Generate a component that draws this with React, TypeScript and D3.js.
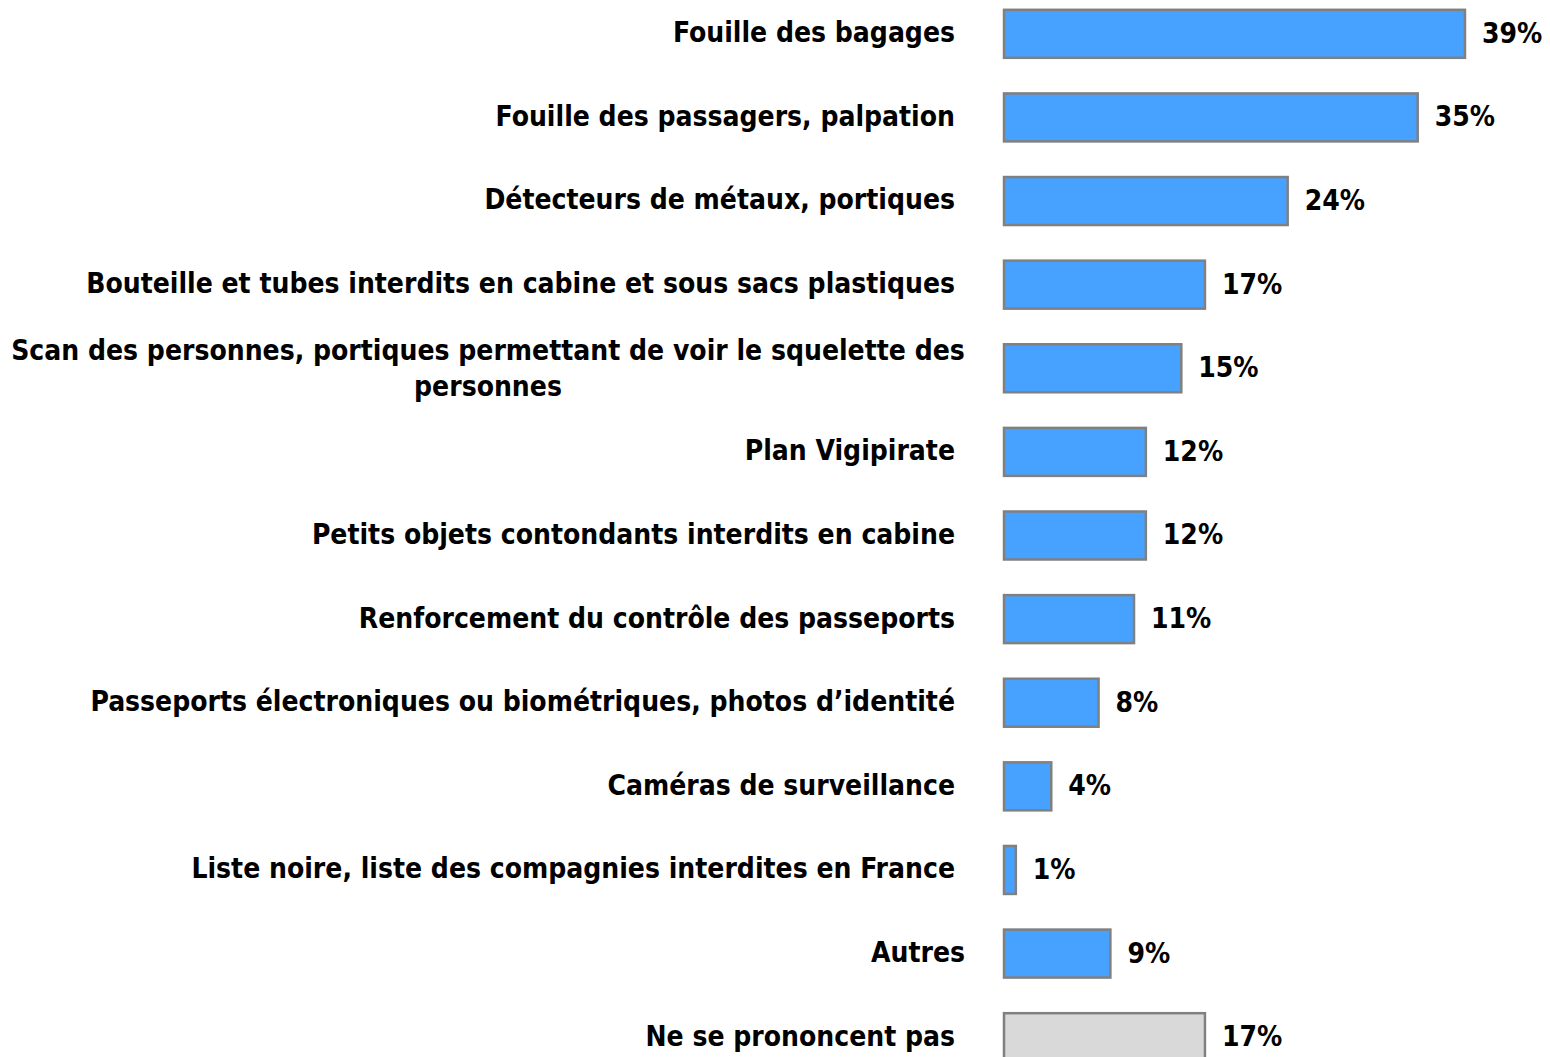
import React, { useEffect } from "react";
import * as d3 from "d3";

const categories: string[] = [
  "Fouille des bagages",
  "Fouille des passagers, palpation",
  "Détecteurs de métaux, portiques",
  "Bouteille et tubes interdits en cabine et sous sacs plastiques",
  "Scan des personnes, portiques permettant de voir le squelette des\npersonnes",
  "Plan Vigipirate",
  "Petits objets contondants interdits en cabine",
  "Renforcement du contrôle des passeports",
  "Passeports électroniques ou biométriques, photos d’identité",
  "Caméras de surveillance",
  "Liste noire, liste des compagnies interdites en France",
  "Autres",
  "Ne se prononcent pas",
];
const values: number[] = [39, 35, 24, 17, 15, 12, 12, 11, 8, 4, 1, 9, 17];
const neutralCategory = "Ne se prononcent pas";

const W = 1550;
const H = 1057;
const FONT = "'DejaVu Sans Condensed', 'DejaVu Sans', sans-serif";
const FS = 28;

export default function App() {
  useEffect(() => {
    document.body.style.margin = "0";
  }, []);

  const y = d3.scaleBand<string>().domain(categories).range([-8, 1079]).paddingInner(0.426).paddingOuter(0.213);
  const x = d3.scaleLinear().domain([0, 100]).range([1004, 1004 + 1182]);
  const labelRight = 955;

  return (
    <svg width={W} height={H} style={{ display: "block", background: "#fff" }}>
      {categories.map((c, i) => {
        const top = y(c)!;
        const bw = y.bandwidth();
        const cy = top + bw / 2;
        const v = values[i];
        const lines = c.split("\n");
        const grey = c === neutralCategory;
        return (
          <g key={c}>
            <rect
              x={x(0)}
              y={top}
              width={x(v) - x(0)}
              height={bw}
              fill={grey ? "#D9D9D9" : "#47A1FF"}
              stroke="#808080"
              strokeWidth={2.5}
            />
            <text
              x={x(v) + 17}
              y={cy}
              dy="0.32em"
              fontFamily={FONT}
              fontWeight="bold"
              fontSize={FS}
              fill="#000"
            >
              {v}%
            </text>
            {lines.length === 1 ? (
              <text
                x={c === "Autres" ? labelRight + 10 : labelRight}
                y={cy}
                dy="0.3em"
                textAnchor="end"
                fontFamily={FONT}
                fontWeight="bold"
                fontSize={FS}
                fill="#000"
              >
                {c}
              </text>
            ) : (
              <text
                x={488}
                y={cy}
                textAnchor="middle"
                fontFamily={FONT}
                fontWeight="bold"
                fontSize={FS}
                fill="#000"
              >
                {lines.map((l, j) => (
                  <tspan key={j} x={488} dy={j === 0 ? "-0.3em" : "1.3em"}>
                    {l}
                  </tspan>
                ))}
              </text>
            )}
          </g>
        );
      })}
    </svg>
  );
}
